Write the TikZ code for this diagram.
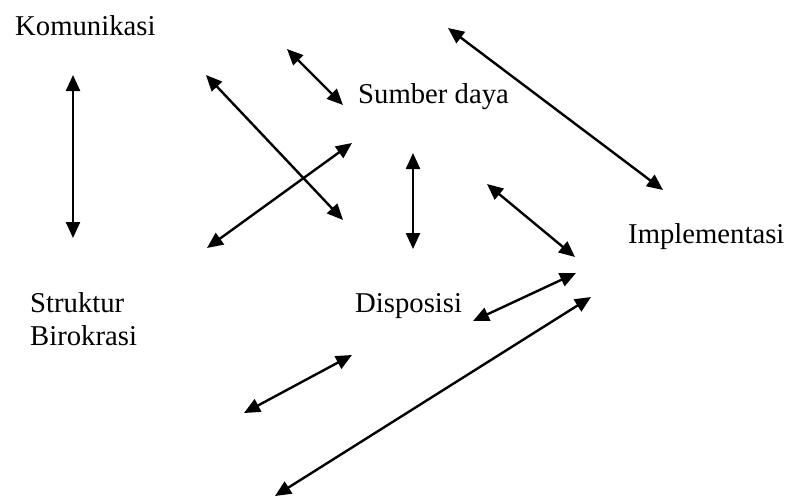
\documentclass[tikz,border=0pt]{standalone}
\usepackage{fontspec}
\setmainfont{Liberation Serif}
\usetikzlibrary{arrows.meta}
\begin{document}
\begin{tikzpicture}[x=1pt,y=-1pt,
  lbl/.style={anchor=base west,inner sep=0pt,font=\fontsize{28.7}{33}\selectfont},
  dbl/.style={line width=2.4pt,{Triangle[length=16pt,width=14pt]}-{Triangle[length=16pt,width=14pt]}}]
\useasboundingbox (0,0) rectangle (790,498);
\node[lbl] (kom) at (15,35) {Komunikasi};
\node[lbl] (sum) at (358,103) {Sumber daya};
\node[lbl] (imp) at (628,243) {Implementasi};
\node[lbl] (str) at (30,312) {Struktur};
\node[lbl] (bir) at (30,345) {Birokrasi};
\node[lbl] (dis) at (355,312) {Disposisi};
\coordinate (a1) at (73,75);   \coordinate (b1) at (73,238);
\coordinate (a2) at (206,75);  \coordinate (b2) at (343,220);
\coordinate (a3) at (207,248); \coordinate (b3) at (352,143);
\coordinate (a4) at (287,49);  \coordinate (b4) at (343,105);
\coordinate (a5) at (448,28);  \coordinate (b5) at (663,190);
\coordinate (a6) at (413,153); \coordinate (b6) at (413,249);
\coordinate (a7) at (487,184); \coordinate (b7) at (575,257);
\coordinate (a8) at (473,321); \coordinate (b8) at (576,273);
\coordinate (a9) at (244,413); \coordinate (b9) at (352,355);
\coordinate (a10) at (275,496); \coordinate (b10) at (591,297);
\foreach \i in {1,...,10} {\draw[dbl] (a\i) -- (b\i);}
\end{tikzpicture}
\end{document}
